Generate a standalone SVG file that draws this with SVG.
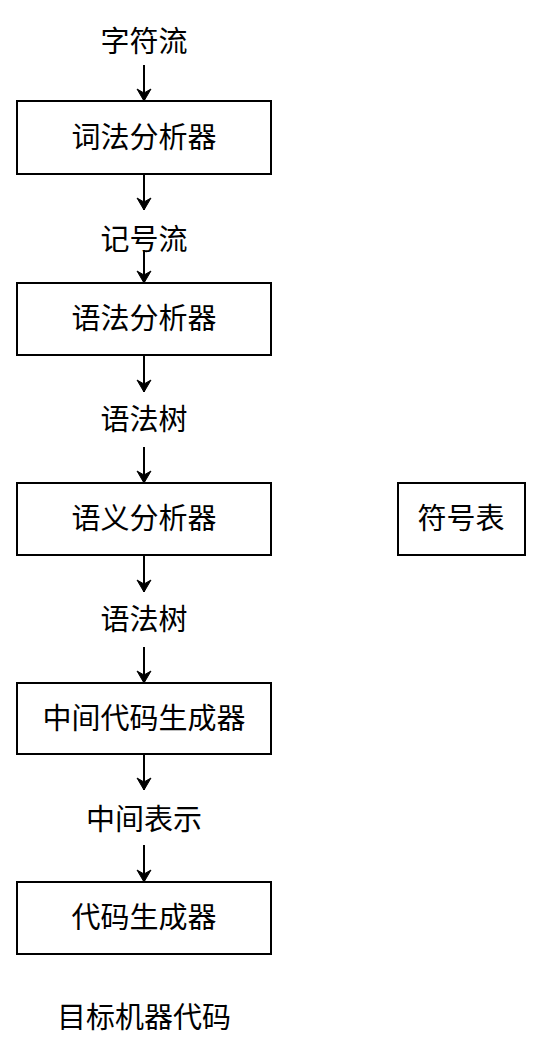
<svg xmlns="http://www.w3.org/2000/svg" width="536" height="1045" viewBox="0 0 536 1045">
<style>
.box{fill:#fff;stroke:#000;stroke-width:2}
.t{font-family:"Noto Sans CJK SC","Microsoft YaHei",sans-serif;font-size:29px;fill:#000;text-anchor:middle}
.c{stroke:#000;stroke-width:2;fill:none;marker-end:url(#ah)}
</style>
<defs>
<marker id="ah" markerWidth="16" markerHeight="16" refX="14" refY="8" orient="auto" markerUnits="userSpaceOnUse">
<path d="M2,1 L14,8 L2,15 L6,8 Z" fill="#000" stroke="#000" stroke-width="1"/>
</marker>
</defs>
<rect width="536" height="1045" fill="#fff"/>
<g id="connectors">
<line class="c" x1="144" y1="65" x2="144" y2="101"/>
<line class="c" x1="144" y1="174" x2="144" y2="210"/>
<line class="c" x1="144" y1="250" x2="144" y2="283"/>
<line class="c" x1="144" y1="355" x2="144" y2="392"/>
<line class="c" x1="144" y1="447" x2="144" y2="483"/>
<line class="c" x1="144" y1="555" x2="144" y2="592"/>
<line class="c" x1="144" y1="647" x2="144" y2="683"/>
<line class="c" x1="144" y1="754" x2="144" y2="790"/>
<line class="c" x1="144" y1="845" x2="144" y2="882"/>
</g>
<g id="label-charstream"><text class="t" x="144" y="52">字符流</text></g>
<g id="lexer"><rect class="box" x="17" y="101" width="254" height="73"/><text class="t" x="144" y="148">词法分析器</text></g>
<g id="label-tokenstream"><text class="t" x="144" y="250">记号流</text></g>
<g id="parser"><rect class="box" x="17" y="283" width="254" height="72"/><text class="t" x="144" y="329">语法分析器</text></g>
<g id="label-tree1"><text class="t" x="144" y="430">语法树</text></g>
<g id="semantic"><rect class="box" x="17" y="483" width="254" height="72"/><text class="t" x="144" y="529">语义分析器</text></g>
<g id="symtab"><rect class="box" x="398" y="483" width="127" height="72"/><text class="t" x="461" y="529">符号表</text></g>
<g id="label-tree2"><text class="t" x="144" y="630">语法树</text></g>
<g id="irgen"><rect class="box" x="17" y="683" width="254" height="71"/><text class="t" x="144" y="729">中间代码生成器</text></g>
<g id="label-ir"><text class="t" x="144" y="830">中间表示</text></g>
<g id="codegen"><rect class="box" x="17" y="882" width="254" height="72"/><text class="t" x="144" y="928">代码生成器</text></g>
<g id="label-target"><text class="t" x="144" y="1028">目标机器代码</text></g>
</svg>
